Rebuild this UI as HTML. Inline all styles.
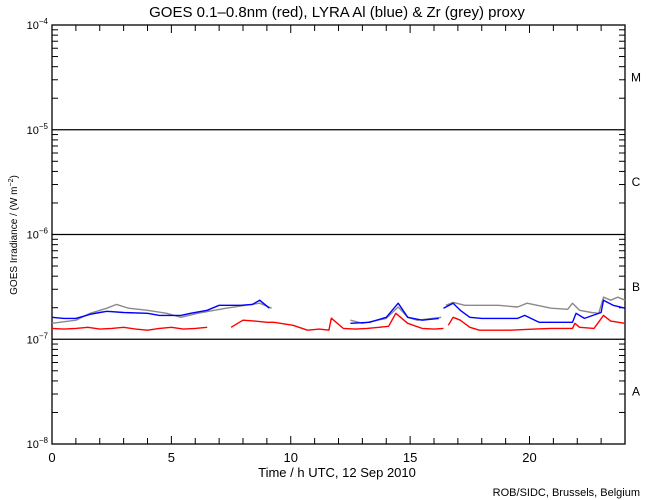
<!DOCTYPE html>
<html><head><meta charset="utf-8"><style>
html,body{margin:0;padding:0;background:#fff;}
svg{display:block;font-family:"Liberation Sans",sans-serif;}
</style></head><body>
<svg id="chart" width="650" height="500" viewBox="0 0 650 500">
<rect width="650" height="500" fill="#fff"/>
<text x="337" y="17" font-size="15" text-anchor="middle">GOES 0.1–0.8nm (red), LYRA Al (blue) &amp; Zr (grey) proxy</text>
<g id="axes"></g>
<g id="series"></g>
<text x="337" y="477" font-size="13" text-anchor="middle">Time / h UTC, 12 Sep 2010</text>
<text x="17" y="235" font-size="10" text-anchor="middle" transform="rotate(-90 17 235)">GOES Irradiance / (W m<tspan dy="-4" font-size="7">−2</tspan><tspan dy="4">)</tspan></text>
<text x="640" y="496" font-size="11" text-anchor="end">ROB/SIDC, Brussels, Belgium</text>
</svg>
<script>
// Data: time (h UTC) and irradiance in units of 1e-7 W m^-2
const xTicks = [0, 5, 10, 15, 20];
const yDecades = [-8, -7, -6, -5, -4];
const classLabels = ['A', 'B', 'C', 'M'];
const redT1 = [0,0.5,1,1.5,2,2.5,3,3.5,4,4.5,5,5.5,6,6.5];
const redV1 = [1.27,1.25,1.27,1.30,1.25,1.27,1.30,1.25,1.22,1.27,1.30,1.25,1.27,1.30];
const redT2 = [7.5,8,8.5,9,9.3,10.1,10.7,11.2,11.6,11.7,12.2,12.7,13.2,13.7,14.1,14.4,14.9,15.5,16,16.4];
const redV2 = [1.30,1.52,1.49,1.45,1.45,1.36,1.22,1.25,1.22,1.59,1.27,1.25,1.27,1.30,1.33,1.77,1.42,1.27,1.25,1.27];
const redT3 = [16.6,16.8,17.1,17.5,17.9,18.5,19.2,20.2,20.9,21.8,21.9,22.1,22.7,23.1,23.4,24];
const redV3 = [1.36,1.62,1.52,1.30,1.22,1.22,1.22,1.25,1.27,1.27,1.42,1.30,1.27,1.69,1.49,1.42];
const blueT1 = [0,0.5,1,1.6,2,2.3,3,4,4.5,5.4,5.8,6.5,7,7.9,8.4,8.7,9.1];
const blueV1 = [1.62,1.58,1.58,1.73,1.80,1.85,1.80,1.77,1.69,1.69,1.77,1.89,2.11,2.11,2.15,2.36,1.98];
const blueT2 = [12.5,13.3,14,14.5,14.9,15.5,16.2];
const blueV2 = [1.42,1.45,1.62,2.21,1.62,1.52,1.58];
const blueT3 = [16.4,16.8,17.1,17.5,18,19.5,19.8,20.4,21.8,21.95,22.3,23,23.1,23.5,24];
const blueV3 = [1.98,2.21,1.89,1.62,1.58,1.58,1.69,1.45,1.45,1.77,1.58,1.80,2.36,2.11,1.98];
const greyT1 = [0,1,1.6,2.3,2.7,3.2,4,4.8,5.4,6.1,6.8,7.3,8.1,8.7,9.2];
const greyV1 = [1.42,1.52,1.77,1.98,2.15,1.98,1.89,1.77,1.62,1.77,1.89,1.98,2.11,2.21,1.98];
const greyT2 = [12.5,13,14,14.5,14.9,15.3,16.3];
const greyV2 = [1.52,1.42,1.58,2.03,1.62,1.52,1.62];
const greyT3 = [16.5,16.8,17.3,18.7,19.5,19.9,20.9,21.6,21.8,22.1,22.6,22.9,23.1,23.4,23.7,24];
const greyV3 = [2.11,2.25,2.11,2.11,2.03,2.21,1.98,1.93,2.21,1.89,1.80,1.77,2.52,2.36,2.52,2.36];

const L=52,R=625,T=25,B=444;
const X=t=>L+(t/24)*(R-L);
const Y=v=>B-(Math.log10(v)+8)/4*(B-T);   // v in W m^-2
const Y7=v=>Y(v*1e-7);
const NS='http://www.w3.org/2000/svg';
function mk(tag,attrs,parent){const e=document.createElementNS(NS,tag);for(const k in attrs)e.setAttribute(k,attrs[k]);parent.appendChild(e);return e;}
const ax=document.getElementById('axes');
const frame=mk('rect',{x:L,y:T,width:R-L,height:B-T,fill:'none',stroke:'#000','stroke-width':1.3},ax);


// y ticks
yDecades.forEach((d,i)=>{
  const y=Y(Math.pow(10,d));
  const lab=mk('text',{x:L-4,y:y+4,'font-size':11,'text-anchor':'end'},ax);
  
  
  lab.textContent='10';
  const sup=mk('tspan',{dy:-5,'font-size':8},lab);sup.textContent='−'+(-d);
  if(d>-8&&d<-4){
    const gl=mk('line',{x1:L,x2:R,y1:y,y2:y,stroke:'#000','stroke-width':1.3},ax);
    
    
  }
  if(i<yDecades.length-1){
    for(let m=2;m<=9;m++){
      const ym=Y(m*Math.pow(10,d));
      mk('line',{x1:L,x2:L+6,y1:ym,y2:ym,stroke:'#000'},ax);
      mk('line',{x1:R-6,x2:R,y1:ym,y2:ym,stroke:'#000'},ax);
    }
    const cl=mk('text',{x:636,y:(y+Y(Math.pow(10,d+1)))/2+4,'font-size':12,'text-anchor':'middle'},ax);
    
    
    cl.textContent=classLabels[i];
  }
});
// x ticks
for(let h=0;h<=24;h++){
  const x=X(h),len=(h%5===0)?8:6;
  mk('line',{x1:x,x2:x,y1:B,y2:B-len,stroke:'#000'},ax);
  mk('line',{x1:x,x2:x,y1:T,y2:T+len,stroke:'#000'},ax);
}
xTicks.forEach(t=>{
  const lab=mk('text',{x:X(t),y:462,'font-size':13,'text-anchor':'middle'},ax);
  
  
  lab.textContent=t;
});
// series
const sg=document.getElementById('series');
function draw(ts,vs,color,name){
  const pl=mk('polyline',{points:ts.map((t,i)=>X(t).toFixed(1)+','+Y7(vs[i]).toFixed(1)).join(' '),fill:'none',stroke:color,'stroke-width':1.4,'stroke-linejoin':'round'},sg);
  
  
}
draw(greyT1,greyV1,'#8a8a8a','zr-proxy-grey-1');
draw(greyT2,greyV2,'#8a8a8a','zr-proxy-grey-2');
draw(greyT3,greyV3,'#8a8a8a','zr-proxy-grey-3');
draw(blueT1,blueV1,'#0000ff','al-proxy-blue-1');
draw(blueT2,blueV2,'#0000ff','al-proxy-blue-2');
draw(blueT3,blueV3,'#0000ff','al-proxy-blue-3');
draw(redT1,redV1,'#ff0000','goes-red-1');
draw(redT2,redV2,'#ff0000','goes-red-2');
draw(redT3,redV3,'#ff0000','goes-red-3');
</script>
</body></html>
